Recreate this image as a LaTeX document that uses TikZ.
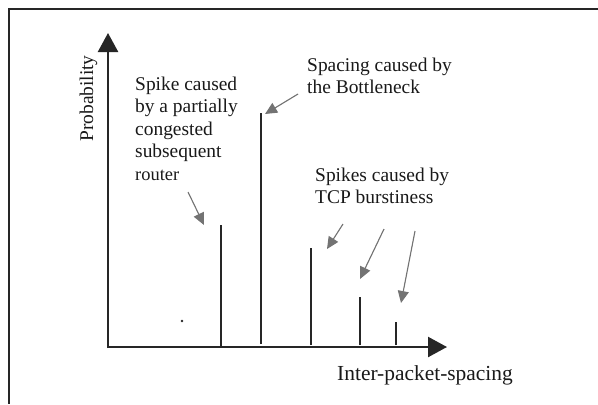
\documentclass[tikz,border=0pt]{standalone}
\usepackage{fontspec}
\setmainfont{Liberation Serif}
\usetikzlibrary{arrows.meta}
\begin{document}
\begin{tikzpicture}[x=1bp,y=-1bp,
  frame/.style={line width=2.2bp, draw=black!85},
  axis/.style={line width=2.4bp, draw=black!85, -{Triangle[length=19bp,width=20bp]}},
  spike/.style={line width=2.2bp, draw=black!85},
  pointer/.style={line width=1.1bp, draw=black!55, fill=black!55, -{Triangle[length=12bp,width=11bp]}},
  label/.style={inner sep=0pt, font=\fontsize{19.5}{22.5}\selectfont, text=black!90, align=left},
]
% page and outer frame
\useasboundingbox (0,0) rectangle (598,404);
\fill[white] (0,0) rectangle (598,404);
\draw[frame] (598,9) -- (9,9) -- (9,404);

% axes
\coordinate (O) at (108,347);
\coordinate (ytip) at (108,33);
\coordinate (xtip) at (447,347);
\draw[axis] (108,348) -- (ytip);
\draw[axis] (107,347) -- (xtip);

% spikes of the distribution
\coordinate (s1b) at (221,347); \coordinate (s1t) at (221,225);
\coordinate (s2b) at (261,344); \coordinate (s2t) at (261,113);
\coordinate (s3b) at (311,345); \coordinate (s3t) at (311,248);
\coordinate (s4b) at (360,345); \coordinate (s4t) at (360,297);
\coordinate (s5b) at (396,345); \coordinate (s5t) at (396,322);
\foreach \s in {1,...,5} \draw[spike] (s\s b) -- (s\s t);
\fill[black!85] (182,321) circle (1.4bp);

% labels
\node[label, rotate=90, anchor=base] (prob) at (93,98.5) {Probability};
\node[label, anchor=base west] (l1a) at (135,90) {Spike caused};
\node[label, anchor=base west] (l1b) at (135,112.5) {by a partially};
\node[label, anchor=base west] (l1c) at (135,135) {congested};
\node[label, anchor=base west] (l1d) at (135,157.5) {subsequent};
\node[label, anchor=base west, font=\fontsize{18.5}{20}\selectfont] (l1e) at (135,180) {router};
\node[label, anchor=base west] (l2a) at (307,71) {Spacing caused by};
\node[label, anchor=base west] (l2b) at (307,93) {the Bottleneck};
\node[label, anchor=base west] (l3a) at (315,181) {Spikes caused by};
\node[label, anchor=base west] (l3b) at (315,203) {TCP burstiness};
\node[label, anchor=base west, font=\fontsize{21.5}{24}\selectfont] (xl) at (337,380) {Inter-packet-spacing};

% pointers from the labels to the spikes
\coordinate (p1s) at (188,192); \coordinate (p1e) at (204,225);
\coordinate (p2s) at (298,94);  \coordinate (p2e) at (265,114);
\coordinate (p3s) at (343,224); \coordinate (p3e) at (327,249);
\coordinate (p4s) at (384,229); \coordinate (p4e) at (360,279);
\coordinate (p5s) at (415,231); \coordinate (p5e) at (401,303);
\foreach \p in {1,...,5} \draw[pointer] (p\p s) -- (p\p e);
\end{tikzpicture}
\end{document}
